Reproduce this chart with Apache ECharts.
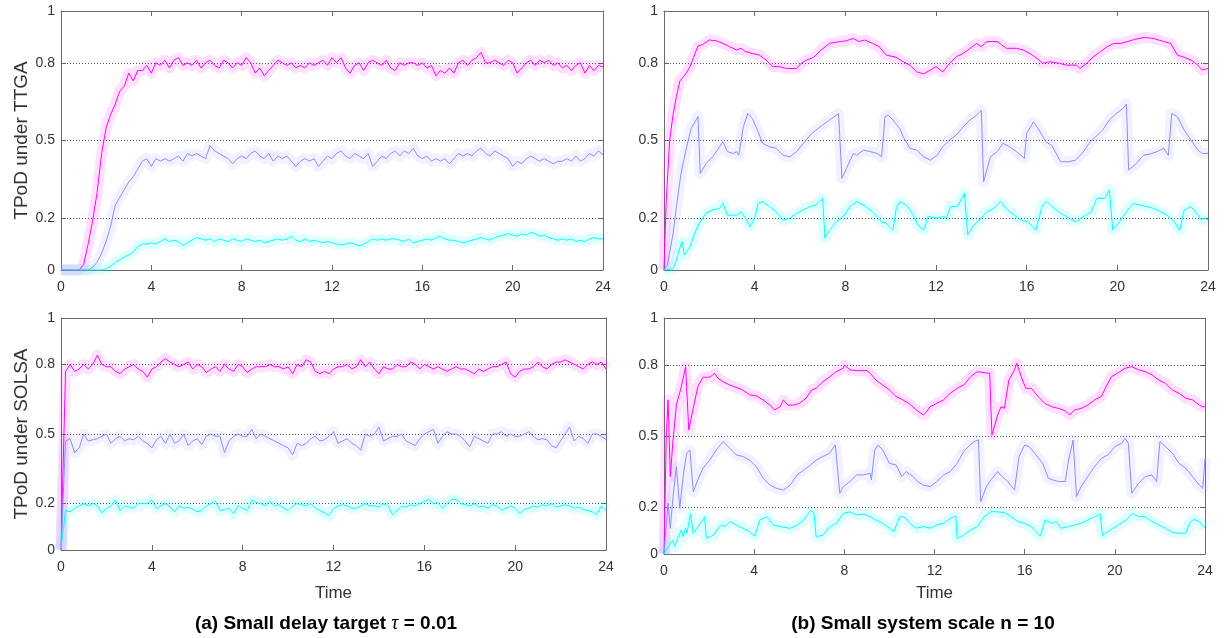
<!DOCTYPE html>
<html lang="en">
<head>
  <meta charset="UTF-8">
  <title>TPoD</title>
  <style>
    body{
      margin: 0;
    }
    .chart{
      width: 1227px;
      height: 638px;
      background: white;
    }
  </style>
</head>
<body>
<div class="chart"></div>
<script src="https://cdn.jsdelivr.net/npm/echarts@6/dist/echarts.min.js"></script>
<script>
  // time axis 0..24, y ticks are uneven
  const timeMax = 24;
  const timeInterval = 4;
  const yTickValues = [0, 0.2, 0.5, 0.8, 1];
  const gridValues = [0.2, 0.5, 0.8];
  const colors = ['#ff00ff', '#8c8cff', '#00ffff'];

  // (a) top: TTGA, sampled every 0.2
  const ttgaMagenta = [0,0,0,0,0,0.02,0.10,0.19,0.30,0.45,0.55,0.60,0.64,0.69,0.71,0.76,0.73,0.77,0.77,0.79,
    0.76,0.80,0.79,0.81,0.78,0.81,0.82,0.79,0.80,0.79,0.81,0.78,0.80,0.81,0.79,0.78,0.81,0.80,0.78,0.80,
    0.79,0.82,0.80,0.76,0.78,0.75,0.77,0.79,0.81,0.80,0.79,0.80,0.78,0.79,0.78,0.80,0.79,0.80,0.81,0.79,
    0.82,0.80,0.82,0.78,0.76,0.79,0.80,0.77,0.80,0.81,0.80,0.79,0.81,0.78,0.77,0.80,0.79,0.80,0.80,0.79,
    0.80,0.78,0.79,0.75,0.77,0.76,0.78,0.76,0.80,0.81,0.79,0.81,0.82,0.84,0.80,0.80,0.81,0.80,0.79,0.81,
    0.80,0.76,0.78,0.80,0.81,0.79,0.81,0.80,0.81,0.79,0.80,0.78,0.79,0.77,0.79,0.80,0.76,0.79,0.77,0.79,0.785];
  const ttgaBlue = [0,0,0,0,0,0,0,0.01,0.03,0.065,0.11,0.17,0.25,0.28,0.31,0.34,0.36,0.39,0.42,0.43,
    0.40,0.43,0.42,0.43,0.42,0.43,0.44,0.42,0.45,0.44,0.45,0.44,0.43,0.48,0.46,0.45,0.44,0.43,0.41,0.43,
    0.44,0.43,0.45,0.46,0.44,0.43,0.45,0.42,0.44,0.43,0.44,0.42,0.40,0.42,0.43,0.42,0.43,0.40,0.42,0.44,
    0.43,0.45,0.46,0.44,0.43,0.45,0.44,0.43,0.45,0.40,0.42,0.44,0.43,0.45,0.46,0.44,0.46,0.45,0.47,0.44,
    0.43,0.44,0.42,0.43,0.42,0.43,0.41,0.43,0.45,0.44,0.45,0.44,0.46,0.47,0.45,0.44,0.46,0.45,0.44,0.43,
    0.40,0.42,0.41,0.43,0.44,0.43,0.42,0.43,0.42,0.41,0.42,0.42,0.43,0.42,0.44,0.42,0.43,0.45,0.44,0.46,0.445];
  const ttgaCyan = [0,0,0,0,0,0,0,0,0,0,0.005,0.015,0.03,0.04,0.05,0.058,0.07,0.09,0.10,0.10,
    0.105,0.10,0.11,0.12,0.11,0.115,0.11,0.095,0.105,0.115,0.125,0.12,0.115,0.12,0.11,0.12,0.115,0.11,0.12,0.115,
    0.11,0.12,0.115,0.11,0.115,0.105,0.11,0.115,0.12,0.115,0.12,0.13,0.115,0.11,0.12,0.11,0.115,0.11,0.105,0.11,
    0.105,0.10,0.097,0.10,0.105,0.10,0.093,0.10,0.11,0.12,0.115,0.12,0.115,0.12,0.12,0.115,0.11,0.12,0.105,0.11,
    0.115,0.12,0.115,0.125,0.13,0.12,0.115,0.115,0.11,0.105,0.11,0.115,0.12,0.125,0.12,0.115,0.125,0.13,0.135,0.14,
    0.135,0.13,0.14,0.135,0.145,0.14,0.13,0.135,0.125,0.12,0.115,0.12,0.115,0.12,0.11,0.115,0.11,0.12,0.125,0.12,0.12];

  // (a) bottom: SOLSA, sampled every 0.2
  const solsaMagenta = [0,0.77,0.80,0.77,0.78,0.80,0.78,0.80,0.84,0.80,0.79,0.79,0.77,0.76,0.78,0.79,0.80,0.78,0.77,0.745,
    0.78,0.79,0.81,0.825,0.81,0.80,0.79,0.80,0.81,0.78,0.80,0.79,0.765,0.78,0.79,0.77,0.80,0.78,0.77,0.80,
    0.79,0.765,0.78,0.79,0.79,0.79,0.80,0.79,0.79,0.78,0.79,0.76,0.80,0.79,0.82,0.81,0.77,0.76,0.77,0.76,
    0.78,0.79,0.79,0.80,0.78,0.79,0.82,0.79,0.81,0.78,0.76,0.79,0.78,0.78,0.80,0.79,0.79,0.81,0.80,0.78,
    0.80,0.79,0.78,0.79,0.78,0.77,0.78,0.79,0.78,0.78,0.77,0.76,0.78,0.77,0.78,0.79,0.79,0.80,0.81,0.76,
    0.745,0.77,0.78,0.78,0.79,0.81,0.79,0.78,0.80,0.81,0.81,0.82,0.81,0.80,0.79,0.78,0.80,0.81,0.80,0.81,0.78];
  const solsaBlue = [0,0.47,0.48,0.42,0.44,0.50,0.47,0.475,0.48,0.49,0.50,0.46,0.48,0.49,0.47,0.48,0.475,0.49,0.47,0.46,
    0.44,0.475,0.49,0.46,0.50,0.46,0.47,0.50,0.45,0.47,0.48,0.455,0.49,0.50,0.49,0.49,0.42,0.47,0.49,0.50,
    0.49,0.49,0.52,0.48,0.50,0.49,0.48,0.47,0.46,0.45,0.44,0.41,0.46,0.45,0.46,0.48,0.49,0.47,0.475,0.49,
    0.51,0.46,0.47,0.48,0.46,0.45,0.43,0.50,0.49,0.50,0.53,0.47,0.48,0.49,0.49,0.50,0.47,0.46,0.45,0.48,
    0.50,0.51,0.52,0.46,0.49,0.51,0.50,0.50,0.49,0.47,0.445,0.49,0.48,0.47,0.46,0.50,0.50,0.51,0.49,0.50,
    0.49,0.49,0.50,0.51,0.49,0.475,0.48,0.475,0.45,0.44,0.47,0.50,0.53,0.47,0.49,0.48,0.46,0.50,0.50,0.49,0.476];
  const solsaCyan = [0,0.17,0.165,0.18,0.19,0.20,0.19,0.20,0.19,0.16,0.18,0.19,0.215,0.17,0.19,0.185,0.18,0.20,0.20,0.20,
    0.215,0.18,0.19,0.20,0.185,0.165,0.19,0.18,0.185,0.175,0.165,0.17,0.19,0.20,0.21,0.17,0.175,0.18,0.157,0.19,
    0.18,0.17,0.215,0.205,0.20,0.19,0.21,0.19,0.195,0.18,0.17,0.19,0.20,0.195,0.19,0.20,0.18,0.17,0.16,0.148,
    0.18,0.19,0.195,0.19,0.18,0.18,0.19,0.20,0.19,0.19,0.185,0.20,0.19,0.153,0.17,0.19,0.185,0.195,0.19,0.20,
    0.21,0.218,0.20,0.205,0.18,0.20,0.218,0.218,0.20,0.195,0.19,0.20,0.185,0.19,0.18,0.195,0.19,0.172,0.18,0.19,
    0.18,0.157,0.175,0.18,0.19,0.185,0.195,0.19,0.20,0.185,0.19,0.195,0.19,0.18,0.185,0.175,0.17,0.165,0.153,0.19,0.172];

  // (b) top: TTGA, n = 10, [time, value]
  const smallTtgaMagenta = [[0,0],[0.1,0.27],[0.25,0.5],[0.4,0.6],[0.55,0.67],[0.7,0.73],[0.9,0.75],[1.15,0.785],[1.3,0.82],[1.5,0.865],
    [1.7,0.87],[2.0,0.888],[2.3,0.885],[2.6,0.875],[2.9,0.862],[3.2,0.85],[3.4,0.856],[3.6,0.843],[3.9,0.836],[4.2,0.83],
    [4.5,0.811],[4.8,0.785],[5.1,0.785],[5.4,0.778],[5.85,0.778],[6.05,0.798],[6.3,0.811],[6.6,0.821],[6.85,0.843],[7.3,0.875],
    [7.75,0.882],[8.05,0.885],[8.35,0.894],[8.6,0.882],[8.85,0.888],[9.2,0.875],[9.5,0.862],[9.8,0.83],[10.25,0.821],[10.55,0.804],
    [10.85,0.791],[11.15,0.765],[11.45,0.757],[11.75,0.772],[12.0,0.785],[12.3,0.765],[12.6,0.798],[12.9,0.824],[13.2,0.836],[13.5,0.856],
    [13.8,0.875],[14.0,0.862],[14.25,0.882],[14.7,0.882],[14.9,0.869],[15.1,0.856],[15.55,0.856],[15.85,0.849],[16.15,0.836],[16.55,0.811],
    [16.7,0.798],[17.0,0.804],[17.45,0.798],[17.75,0.791],[18.2,0.791],[18.35,0.778],[18.65,0.798],[18.95,0.824],[19.25,0.843],[19.55,0.862],
    [19.85,0.875],[20.15,0.875],[20.45,0.882],[20.75,0.89],[21.2,0.898],[21.6,0.894],[22.05,0.882],[22.35,0.875],[22.65,0.83],[22.95,0.821],
    [23.25,0.811],[23.55,0.791],[23.75,0.772],[24,0.778]];
  const smallTtgaBlue = [[0,0],[0.15,0.02],[0.4,0.14],[0.55,0.245],[0.75,0.373],[1.0,0.476],[1.2,0.547],[1.5,0.592],[1.6,0.373],[1.85,0.41],
    [2.15,0.437],[2.45,0.476],[2.6,0.495],[2.8,0.457],[3.05,0.45],[3.2,0.457],[3.3,0.443],[3.5,0.553],[3.7,0.604],[3.9,0.585],
    [4.15,0.534],[4.35,0.489],[4.65,0.476],[4.95,0.47],[5.25,0.443],[5.55,0.437],[5.85,0.457],[6.15,0.489],[6.45,0.521],[6.7,0.54],
    [7.0,0.56],[7.3,0.579],[7.7,0.604],[7.85,0.354],[8.05,0.392],[8.35,0.45],[8.5,0.443],[8.8,0.463],[9.1,0.457],[9.4,0.45],
    [9.6,0.437],[9.75,0.592],[9.9,0.598],[10.1,0.579],[10.4,0.547],[10.55,0.515],[10.85,0.47],[11.15,0.463],[11.45,0.437],[11.75,0.424],
    [12.05,0.443],[12.3,0.476],[12.6,0.502],[12.9,0.521],[13.2,0.553],[13.5,0.579],[13.8,0.598],[14.0,0.617],[14.1,0.341],[14.4,0.437],
    [14.7,0.457],[14.95,0.489],[15.25,0.476],[15.55,0.457],[15.9,0.431],[16.0,0.527],[16.3,0.572],[16.55,0.54],[16.85,0.495],[17.1,0.482],
    [17.5,0.418],[17.85,0.418],[18.15,0.424],[18.45,0.45],[18.75,0.489],[19.05,0.515],[19.35,0.54],[19.65,0.579],[19.95,0.604],[20.25,0.624],
    [20.4,0.641],[20.5,0.386],[20.85,0.412],[21.15,0.443],[21.45,0.448],[21.75,0.457],[22.05,0.47],[22.25,0.443],[22.4,0.604],[22.65,0.592],
    [22.95,0.54],[23.25,0.502],[23.55,0.463],[23.75,0.45],[24,0.45]];
  const smallTtgaCyan = [[0,0],[0.4,0.005],[0.55,0.04],[0.75,0.1],[0.8,0.11],[0.9,0.058],[1.15,0.09],[1.35,0.141],[1.55,0.18],[1.85,0.219],
    [2.15,0.232],[2.45,0.238],[2.6,0.257],[2.8,0.212],[3.2,0.212],[3.4,0.225],[3.6,0.2],[3.8,0.167],[4.0,0.2],[4.15,0.257],
    [4.35,0.264],[4.65,0.245],[4.95,0.225],[5.25,0.193],[5.55,0.2],[5.85,0.219],[6.15,0.232],[6.45,0.245],[6.7,0.251],[7.0,0.277],
    [7.1,0.123],[7.3,0.154],[7.6,0.187],[7.9,0.206],[8.2,0.245],[8.5,0.264],[8.8,0.251],[9.2,0.225],[9.6,0.187],[9.8,0.18],
    [10.1,0.154],[10.25,0.238],[10.4,0.264],[10.7,0.251],[11.0,0.212],[11.2,0.174],[11.45,0.154],[11.65,0.206],[12.05,0.2],[12.3,0.206],
    [12.45,0.2],[12.65,0.245],[12.95,0.245],[13.25,0.296],[13.4,0.135],[13.6,0.167],[13.9,0.193],[14.25,0.225],[14.55,0.238],[14.85,0.264],
    [15.15,0.232],[15.45,0.212],[15.75,0.193],[16.05,0.187],[16.4,0.154],[16.7,0.251],[16.9,0.264],[17.2,0.238],[17.5,0.219],[17.75,0.206],
    [18.0,0.193],[18.2,0.187],[18.5,0.206],[18.85,0.225],[19.1,0.277],[19.45,0.277],[19.65,0.309],[19.8,0.154],[20.1,0.187],[20.4,0.225],
    [20.7,0.257],[21.0,0.251],[21.3,0.245],[21.6,0.238],[21.9,0.225],[22.2,0.212],[22.5,0.187],[22.75,0.154],[22.95,0.232],[23.25,0.245],
    [23.5,0.219],[23.7,0.193],[23.85,0.2],[24,0.193]];

  // (b) bottom: SOLSA, n = 10, [time, value]
  const smallSolsaMagenta = [[0,0],[0.1,0.497],[0.18,0.653],[0.28,0.328],[0.4,0.483],[0.55,0.631],[0.77,0.709],[0.96,0.794],[1.1,0.525],[1.28,0.61],
    [1.5,0.709],[1.73,0.749],[2.03,0.749],[2.25,0.766],[2.4,0.744],[2.62,0.73],[2.92,0.716],[3.2,0.706],[3.5,0.695],[3.8,0.674],
    [4.1,0.67],[4.4,0.653],[4.7,0.631],[4.9,0.61],[5.15,0.624],[5.3,0.653],[5.5,0.631],[5.75,0.631],[6.0,0.638],[6.3,0.66],
    [6.55,0.695],[6.75,0.702],[7.05,0.73],[7.35,0.751],[7.65,0.773],[7.95,0.787],[8.0,0.801],[8.25,0.78],[8.55,0.777],[9.0,0.777],
    [9.15,0.766],[9.4,0.737],[9.7,0.716],[10.0,0.695],[10.3,0.667],[10.6,0.653],[10.9,0.635],[11.2,0.61],[11.5,0.589],[11.65,0.603],
    [11.8,0.624],[12.1,0.638],[12.4,0.653],[12.7,0.681],[13.0,0.702],[13.3,0.716],[13.6,0.751],[13.9,0.773],[14.2,0.768],[14.45,0.766],
    [14.5,0.624],[14.55,0.504],[14.8,0.589],[14.95,0.624],[15.1,0.617],[15.3,0.737],[15.55,0.78],[15.65,0.808],[15.85,0.751],[16.05,0.702],
    [16.3,0.702],[16.6,0.667],[16.9,0.638],[17.2,0.624],[17.5,0.617],[17.8,0.607],[18.0,0.589],[18.2,0.61],[18.5,0.617],[18.8,0.631],
    [19.1,0.653],[19.4,0.667],[19.65,0.716],[19.85,0.751],[20.15,0.768],[20.45,0.787],[20.75,0.794],[21.05,0.78],[21.35,0.773],[21.65,0.759],
    [21.95,0.737],[22.25,0.723],[22.55,0.695],[22.85,0.681],[23.15,0.66],[23.45,0.653],[23.75,0.631],[23.9,0.624],[24,0.624]];
  const smallSolsaBlue = [[0,0],[0.18,0.215],[0.28,0.109],[0.4,0.243],[0.55,0.37],[0.7,0.193],[0.85,0.328],[1.0,0.427],[1.15,0.441],[1.3,0.264],
    [1.5,0.314],[1.73,0.363],[2.03,0.398],[2.32,0.441],[2.62,0.476],[2.7,0.483],[2.92,0.448],[3.2,0.42],[3.5,0.413],[3.8,0.398],
    [4.1,0.37],[4.4,0.321],[4.7,0.292],[5.0,0.278],[5.3,0.271],[5.6,0.292],[5.9,0.335],[6.2,0.356],[6.5,0.377],[6.75,0.398],
    [7.05,0.413],[7.35,0.427],[7.6,0.462],[7.65,0.469],[7.8,0.257],[7.95,0.285],[8.25,0.307],[8.55,0.335],[8.85,0.335],[9.15,0.342],
    [9.2,0.314],[9.35,0.441],[9.5,0.462],[9.7,0.441],[10.0,0.384],[10.3,0.377],[10.55,0.328],[10.75,0.349],[11.05,0.328],[11.25,0.307],
    [11.5,0.292],[11.8,0.285],[12.1,0.307],[12.4,0.335],[12.7,0.349],[13.0,0.384],[13.3,0.434],[13.5,0.455],[13.75,0.476],[13.95,0.483],
    [14.05,0.222],[14.3,0.285],[14.5,0.314],[14.8,0.349],[15.0,0.328],[15.25,0.307],[15.55,0.271],[15.75,0.413],[16.0,0.462],[16.2,0.455],
    [16.5,0.42],[16.8,0.384],[17.05,0.321],[17.25,0.314],[17.5,0.307],[17.8,0.307],[17.95,0.398],[18.15,0.483],[18.3,0.243],[18.5,0.285],
    [18.8,0.328],[19.1,0.37],[19.4,0.405],[19.7,0.42],[20.0,0.455],[20.3,0.469],[20.45,0.49],[20.6,0.469],[20.75,0.257],[21.05,0.299],
    [21.35,0.328],[21.65,0.335],[21.85,0.307],[22.0,0.476],[22.25,0.455],[22.55,0.427],[22.85,0.384],[23.15,0.363],[23.45,0.328],[23.75,0.292],
    [23.9,0.278],[24,0.405]];
  const smallSolsaCyan = [[0,0],[0.15,0.025],[0.25,0.039],[0.4,0.059],[0.47,0.032],[0.62,0.07],[0.77,0.102],[0.85,0.073],[0.96,0.109],[1.02,0.088],
    [1.17,0.169],[1.3,0.088],[1.5,0.116],[1.73,0.144],[1.8,0.158],[1.88,0.066],[2.18,0.08],[2.4,0.109],[2.55,0.123],[2.7,0.116],
    [2.92,0.137],[3.2,0.123],[3.5,0.109],[3.8,0.095],[4.02,0.076],[4.25,0.144],[4.55,0.158],[4.85,0.123],[5.15,0.116],[5.6,0.109],
    [5.9,0.123],[6.2,0.144],[6.5,0.184],[6.65,0.175],[6.75,0.073],[7.05,0.08],[7.35,0.116],[7.65,0.13],[7.95,0.172],[8.25,0.179],
    [8.55,0.165],[8.85,0.169],[9.15,0.158],[9.4,0.144],[9.7,0.13],[10.0,0.109],[10.2,0.095],[10.45,0.158],[10.65,0.158],[10.9,0.13],
    [11.2,0.109],[11.5,0.116],[11.8,0.109],[12.1,0.123],[12.4,0.13],[12.7,0.151],[12.95,0.161],[13.0,0.066],[13.3,0.08],[13.6,0.102],
    [13.9,0.116],[14.2,0.158],[14.5,0.179],[14.8,0.179],[15.1,0.175],[15.4,0.158],[15.7,0.137],[16.0,0.13],[16.3,0.116],[16.5,0.095],
    [16.7,0.076],[16.9,0.144],[17.2,0.13],[17.4,0.137],[17.6,0.109],[17.95,0.116],[18.2,0.123],[18.5,0.13],[18.8,0.144],[19.1,0.158],
    [19.35,0.169],[19.45,0.08],[19.8,0.102],[20.15,0.123],[20.5,0.144],[20.8,0.172],[21.05,0.158],[21.35,0.158],[21.65,0.137],[21.95,0.123],
    [22.25,0.109],[22.55,0.091],[22.85,0.088],[23.15,0.088],[23.3,0.13],[23.5,0.147],[23.75,0.137],[24,0.109]];

  // evenly sampled lists -> [time, value]
  function withTime(values){
    const step = timeMax/(values.length-1);
    return values.map((v,i)=>[i*step, v]);
  }

  const panels = [
    {grid:{left:61, top:11, width:542, height:259}, yName:'TPoD under TTGA', xName:'',
      lines:[withTime(ttgaMagenta), withTime(ttgaBlue), withTime(ttgaCyan)]},
    {grid:{left:664, top:11, width:544, height:259}, yName:'', xName:'',
      lines:[smallTtgaMagenta, smallTtgaBlue, smallTtgaCyan]},
    {grid:{left:61, top:318, width:545, height:232}, yName:'TPoD under SOLSA', xName:'Time', nameGap:35,
      lines:[withTime(solsaMagenta), withTime(solsaBlue), withTime(solsaCyan)]},
    {grid:{left:664, top:318, width:541, height:236}, yName:'', xName:'Time', nameGap:31,
      lines:[smallSolsaMagenta, smallSolsaBlue, smallSolsaCyan]}
  ];

  const font = "'Liberation Sans', Arial, sans-serif";
  const boxColor = '#6b6b6b';
  const grids = [], xAxes = [], yAxes = [], series = [];

  panels.forEach((p, gi)=>{
    grids.push(Object.assign({containLabel:false}, p.grid));
    const xBase = {
      type:'value', gridIndex:gi, min:0, max:timeMax, interval:timeInterval,
      axisLine:{show:true, onZero:false, lineStyle:{color:boxColor, width:1}},
      axisTick:{show:true, inside:true, length:5, lineStyle:{color:boxColor}},
      splitLine:{show:false}
    };
    xAxes.push(Object.assign({}, xBase, {
      position:'bottom',
      name:p.xName, nameLocation:'middle', nameGap:p.nameGap || 30,
      nameTextStyle:{fontFamily:font, fontSize:17, color:'#333'},
      axisLabel:{show:true, margin:10, fontFamily:font, fontSize:14, color:'#333'}
    }));
    xAxes.push(Object.assign({}, xBase, {position:'top', axisLabel:{show:false}}));

    const yBase = {
      type:'value', gridIndex:gi, min:0, max:1,
      axisLine:{show:true, onZero:false, lineStyle:{color:boxColor, width:1}},
      axisTick:{show:true, inside:true, length:5, customValues:yTickValues, lineStyle:{color:boxColor}},
      splitLine:{show:false}
    };
    yAxes.push(Object.assign({}, yBase, {
      position:'left',
      name:p.yName, nameLocation:'middle', nameGap:30,
      nameTextStyle:{fontFamily:font, fontSize:19, color:'#333'},
      axisLabel:{show:true, margin:6, customValues:yTickValues, fontFamily:font, fontSize:14, color:'#333',
        formatter:(v)=>String(v)}
    }));
    yAxes.push(Object.assign({}, yBase, {position:'right', axisLabel:{show:false}}));

    p.lines.forEach((data, si)=>{
      // shaded band around the mean
      series.push({
        type:'line', xAxisIndex:gi*2, yAxisIndex:gi*2, data:data,
        showSymbol:false, silent:true, z:1,
        lineStyle:{color:colors[si], width:11, opacity:0.12, join:'round', cap:'butt'}
      });
    });
    p.lines.forEach((data, si)=>{
      const s = {
        type:'line', xAxisIndex:gi*2, yAxisIndex:gi*2, data:data,
        showSymbol:false, silent:true, z:3,
        lineStyle:{color:colors[si], width:1}
      };
      if (si === 0){
        s.markLine = {
          silent:true, symbol:'none', label:{show:false}, z:2,
          lineStyle:{color:'#555', type:[1,2], width:1},
          data:gridValues.map(v=>({yAxis:v}))
        };
      }
      series.push(s);
    });
  });

  const container = document.querySelector('.chart');
  const instance = echarts.init(container);
  instance.setOption({
    animation:false,
    grid:grids,
    xAxis:xAxes,
    yAxis:yAxes,
    series:series,
    graphic:[
      {type:'text', x:326, y:624, silent:true, style:{
        text:'(a) Small delay target {i|τ} = 0.01', x:0, y:0, align:'center', verticalAlign:'middle',
        font:"bold 19px 'Liberation Sans', Arial, sans-serif", fill:'#000',
        rich:{i:{fontFamily:"'Liberation Serif', serif", fontStyle:'italic', fontWeight:'normal', fontSize:20, fill:'#000'}}
      }},
      {type:'text', x:923, y:624, silent:true, style:{
        text:'(b) Small system scale n = 10', x:0, y:0, align:'center', verticalAlign:'middle',
        font:"bold 19px 'Liberation Sans', Arial, sans-serif", fill:'#000'
      }}
    ]
  });
</script>
</body>
</html>
